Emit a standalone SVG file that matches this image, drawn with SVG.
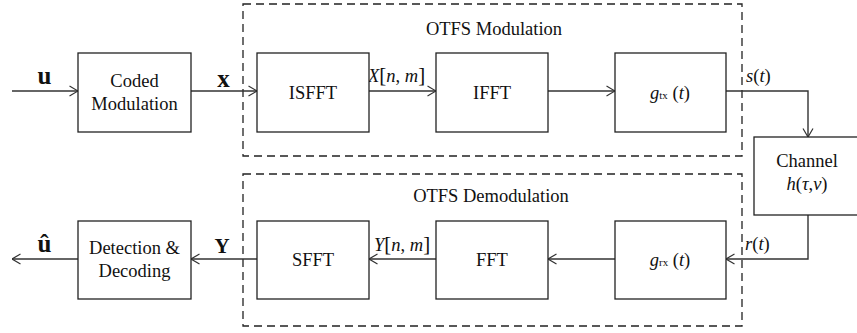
<svg xmlns="http://www.w3.org/2000/svg" width="857" height="333" viewBox="0 0 857 333">
<defs>
<marker id="arr" viewBox="0 0 10 12" refX="9.5" refY="6" markerWidth="10" markerHeight="12" markerUnits="userSpaceOnUse" orient="auto">
<path d="M1,1 L9.5,6 L1,11" fill="none" stroke="#333" stroke-width="1.2"/>
</marker>
</defs>
<style>
.box{fill:#fff;stroke:#222;stroke-width:1.3}
.dash{fill:none;stroke:#222;stroke-width:1.3;stroke-dasharray:8,5}
.ln{fill:none;stroke:#333;stroke-width:1.4}
text{font-family:"Liberation Serif","Times New Roman",serif}
.t{font-size:18.5px;fill:#111;text-anchor:middle}
.m{font-size:18.5px;fill:#111;font-style:italic}
.b{font-size:25px;fill:#111;font-weight:bold;text-anchor:middle}
.up{font-style:normal}
.sub{font-style:normal;font-size:11px}
</style>
<g id="otfs-mod-group">
<rect class="dash" x="243" y="4" width="499" height="152"/>
<text class="t" font-family="Liberation Serif, serif" x="494" y="35">OTFS Modulation</text>
</g>
<g id="otfs-demod-group">
<rect class="dash" x="243" y="174" width="499" height="152"/>
<text class="t" font-family="Liberation Serif, serif" x="491" y="202">OTFS Demodulation</text>
</g>
<g id="connectors">
<path class="ln" d="M12,91 H78" marker-end="url(#arr)"/>
<path class="ln" d="M191,91 H257" marker-end="url(#arr)"/>
<path class="ln" d="M369,91 H436" marker-end="url(#arr)"/>
<path class="ln" d="M548,91 H615" marker-end="url(#arr)"/>
<path class="ln" d="M726,91 H808 V137" marker-end="url(#arr)"/>
<path class="ln" d="M808,215 V259 H726" marker-end="url(#arr)"/>
<path class="ln" d="M615,259 H548" marker-end="url(#arr)"/>
<path class="ln" d="M436,259 H369" marker-end="url(#arr)"/>
<path class="ln" d="M257,259 H191" marker-end="url(#arr)"/>
<path class="ln" d="M78,259 H12" marker-end="url(#arr)"/>
</g>
<g id="labels" font-family="Liberation Serif, serif">
<text class="b" x="44.5" y="84">u</text>
<text class="b" x="223.5" y="87">x</text>
<text class="b" x="44.5" y="252">û</text>
<text class="b" x="222" y="253" style="font-size:21px">Y</text>
<text class="m" x="368" y="82">X<tspan class="up" font-size="21">[</tspan>n<tspan class="up">,</tspan> m<tspan class="up" font-size="21">]</tspan></text>
<text class="m" x="746" y="82">s<tspan class="up">(</tspan>t<tspan class="up">)</tspan></text>
<text class="m" x="374" y="251">Y<tspan class="up" font-size="21">[</tspan>n<tspan class="up">,</tspan> m<tspan class="up" font-size="21">]</tspan></text>
<text class="m" x="745" y="250">r<tspan class="up">(</tspan>t<tspan class="up">)</tspan></text>
</g>
<g id="coded-modulation" font-family="Liberation Serif, serif">
<rect class="box" x="78" y="53" width="113" height="79"/>
<text class="t" x="134.5" y="87">Coded</text>
<text class="t" x="134.5" y="110">Modulation</text>
</g>
<g id="isfft" font-family="Liberation Serif, serif">
<rect class="box" x="257" y="53" width="112" height="79"/>
<text class="t" x="313" y="99">ISFFT</text>
</g>
<g id="ifft" font-family="Liberation Serif, serif">
<rect class="box" x="436" y="53" width="112" height="79"/>
<text class="t" x="492" y="99">IFFT</text>
</g>
<g id="gtx" font-family="Liberation Serif, serif">
<rect class="box" x="615" y="53" width="111" height="79"/>
<text class="m" x="670" y="99" text-anchor="middle">g<tspan class="sub">tx</tspan><tspan class="up"> (</tspan>t<tspan class="up">)</tspan></text>
</g>
<g id="channel" font-family="Liberation Serif, serif">
<rect class="box" x="754" y="137" width="110" height="78"/>
<text class="t" x="807" y="167">Channel</text>
<text class="m" x="807" y="190" text-anchor="middle">h<tspan class="up">(</tspan>τ<tspan class="up">,</tspan>ν<tspan class="up">)</tspan></text>
</g>
<g id="detection-decoding" font-family="Liberation Serif, serif">
<rect class="box" x="78" y="221" width="113" height="78"/>
<text class="t" x="134.5" y="254">Detection &amp;</text>
<text class="t" x="134.5" y="277">Decoding</text>
</g>
<g id="sfft" font-family="Liberation Serif, serif">
<rect class="box" x="257" y="221" width="112" height="78"/>
<text class="t" x="313" y="266">SFFT</text>
</g>
<g id="fft" font-family="Liberation Serif, serif">
<rect class="box" x="436" y="221" width="112" height="78"/>
<text class="t" x="492" y="266">FFT</text>
</g>
<g id="grx" font-family="Liberation Serif, serif">
<rect class="box" x="615" y="221" width="111" height="78"/>
<text class="m" x="670" y="266" text-anchor="middle">g<tspan class="sub">rx</tspan><tspan class="up"> (</tspan>t<tspan class="up">)</tspan></text>
</g>
</svg>
